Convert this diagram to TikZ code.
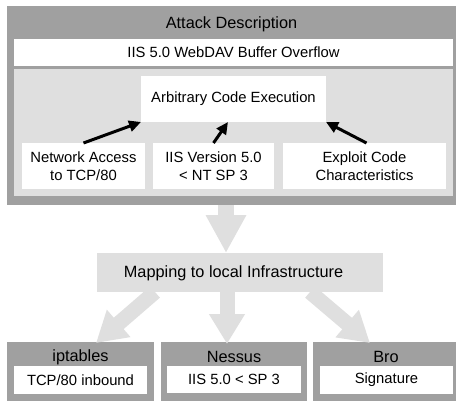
\documentclass[tikz,border=0pt]{standalone}
\usepackage{fontspec}
\setmainfont{Liberation Sans}
\usetikzlibrary{arrows.meta}
\definecolor{dk}{HTML}{A0A0A0}
\definecolor{lt}{HTML}{DFDFDF}
\begin{document}
\begin{tikzpicture}[x=1pt,y=-1pt,
  area/.style={anchor=north west, inner sep=0pt, outer sep=0pt, draw=none},
  big/.style={font=\fontsize{16.3}{19}\selectfont, inner sep=0pt},
  small/.style={font=\fontsize{14.8}{18}\selectfont, align=center},
  blk/.style={line width=3pt, -{Triangle[length=12pt,width=11pt]}},
  gry/.style={draw=lt, line width=16pt},
  grybig/.style={gry, -{Triangle[length=38pt,width=38pt]}},
  grysm/.style={gry, line width=15pt, -{Triangle[length=30pt,width=34pt]}}]
\useasboundingbox (0,0) rectangle (456,400);
% upper block
\node[area, fill=dk, minimum width=449pt, minimum height=199pt] (outer) at (7,6) {};
\node[big] (t1) at (231.5,24) {Attack Description};
\node[area, fill=white, minimum width=439pt, minimum height=27pt, small] (bar) at (14,39) {IIS 5.0 WebDAV Buffer Overflow};
\node[area, fill=lt, minimum width=439pt, minimum height=127pt] (inner) at (14,69) {};
\node[area, fill=white, minimum width=185pt, minimum height=46pt, small] (arb) at (141,76) {Arbitrary Code Execution};
\node[area, fill=white, minimum width=123pt, minimum height=46pt, small] (n1) at (22,143) {Network Access\\to TCP/80};
\node[area, fill=white, minimum width=121pt, minimum height=46pt, small] (n2) at (153,143) {IIS Version 5.0\\{<} NT SP 3};
\node[area, fill=white, minimum width=163pt, minimum height=46pt, small] (n3) at (283,143) {Exploit Code\\Characteristics};
\draw[blk] (n1.north) -- (arb.south west);
\draw[blk] (n2.north) -- ([xshift=-5.5pt]arb.south);
\draw[blk] ([xshift=2pt]n3.north) -- (arb.south east);
% mapping
\node[area, fill=lt, minimum width=286pt, minimum height=39pt] (map) at (97,253) {};
\node[big] (mt) at (233.5,273) {Mapping to local Infrastructure};
\draw[grybig] ([xshift=-5.5pt]outer.south) -- ([xshift=-5.5pt]outer.south |- map.north);
% bottom blocks
\node[area, fill=dk, minimum width=147pt, minimum height=60pt] (b1) at (7,342) {};
\node[area, fill=dk, minimum width=146pt, minimum height=60pt] (b2) at (161,342) {};
\node[area, fill=dk, minimum width=145pt, minimum height=60pt] (b3) at (313,342) {};
\node[big] (bt1) at (80.5,357) {iptables};
\node[big] (bt2) at (234,357) {Nessus};
\node[big] (bt3) at (386,357) {Bro};
\node[area, fill=white, minimum width=133pt, minimum height=28pt, small] (w1) at (14,366) {TCP/80 inbound};
\node[area, fill=white, minimum width=134pt, minimum height=27pt, small] (w2) at (167,366) {IIS 5.0 {<} SP 3};
\node[area, fill=white, minimum width=133pt, minimum height=28pt, small] (w3) at (320,366) {Signature};
\draw[grysm] ([xshift=-85pt]map.south) -- ([xshift=89pt,yshift=-1pt]b1.north west);
\draw[grysm] ([xshift=-13pt]map.south) -- ([xshift=-13pt,yshift=-2pt]map.south |- b2.north);
\draw[grysm] ([xshift=70pt]map.south) -- ([xshift=57pt,yshift=-1pt]b3.north west);
\end{tikzpicture}
\end{document}
